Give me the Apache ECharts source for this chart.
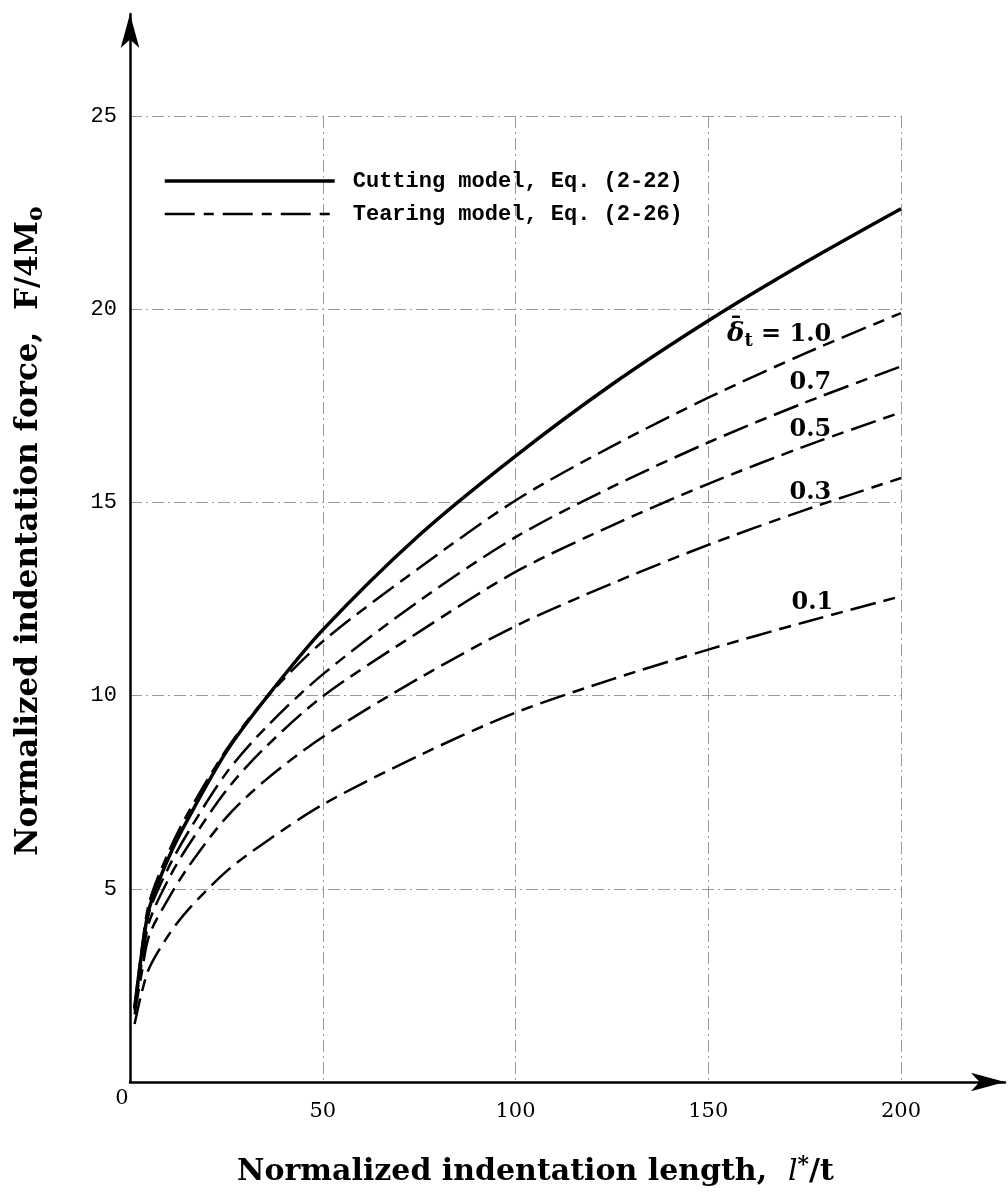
<!DOCTYPE html>
<html>
<head>
<meta charset="utf-8">
<script src="https://cdn.jsdelivr.net/npm/echarts@6/dist/echarts.min.js"></script>
<style>
  html, body { margin: 0; padding: 0; background: #fff; }
  #chart { width: 1008px; height: 1192px; }
</style>
</head>
<body>
<div id="chart"></div>
<script>
// indentation length l*/t, shared by every curve
const lengths = [1.2, 3, 5, 10, 15, 25, 35, 50, 75, 100, 125, 150, 175, 200];

// cutting model, Eq. (2-22)
const cutting = [1.9, 3.3, 4.5, 5.8, 6.8, 8.55, 9.9, 11.7, 14.15, 16.2, 18.05, 19.7, 21.2, 22.6];

// tearing model, Eq. (2-26), one curve per delta_t
const tear10 = [1.95, 3.4, 4.65, 5.95, 6.95, 8.6, 9.9, 11.4, 13.3, 15.05, 16.45, 17.71, 18.85, 19.9];
const tear07 = [1.9, 3.2, 4.4, 5.55, 6.45, 8.0, 9.15, 10.55, 12.45, 14.1, 15.4, 16.55, 17.58, 18.52];
const tear05 = [1.85, 3.05, 4.15, 5.25, 6.1, 7.55, 8.65, 9.98, 11.65, 13.2, 14.4, 15.48, 16.45, 17.33];
const tear03 = [1.75, 2.8, 3.8, 4.75, 5.55, 6.85, 7.8, 8.93, 10.45, 11.8, 12.9, 13.9, 14.8, 15.63];
const tear01 = [1.5, 2.3, 2.95, 3.8, 4.45, 5.45, 6.2, 7.18, 8.45, 9.56, 10.42, 11.19, 11.9, 12.57];

const deltas = ['1.0', '0.7', '0.5', '0.3', '0.1'];
const tearing = [tear10, tear07, tear05, tear03, tear01];
// where each delta label sits, in data units
const labelAt = [[168.4, 19.4], [176.5, 18.1], [176.5, 16.88], [176.5, 15.25], [177, 12.4]];

const cutName = 'Cutting model, Eq. (2-22)';
const tearName = 'Tearing model, Eq. (2-26)';

const toPairs = ys => lengths.map((x, i) => [x, ys[i]]);

const myChart = echarts.init(document.getElementById('chart'), null, { renderer: 'canvas' });

const gridLine = { show: true, lineStyle: { color: '#9a9a9a', width: 1, type: [12, 4, 2, 4] } };
const arrowAxisLine = {
  show: true,
  symbol: ['none', 'arrow'],
  symbolSize: [14, 34],
  lineStyle: { color: '#000', width: 2.5 }
};

const series = [{
  name: cutName,
  type: 'line',
  xAxisIndex: 0,
  yAxisIndex: 0,
  smooth: 0.3,
  showSymbol: false,
  symbol: 'none',
  itemStyle: { color: '#000' },
  lineStyle: { color: '#000', width: 3.5 },
  data: toPairs(cutting)
}];

tearing.forEach((ys, i) => {
  series.push({
    name: tearName,
    type: 'line',
    xAxisIndex: 0,
    yAxisIndex: 0,
    smooth: 0.3,
    showSymbol: false,
    symbol: 'none',
    itemStyle: { color: '#000' },
    lineStyle: { color: '#000', width: 2.5, type: [26, 8, 12, 8] },
    data: toPairs(ys),
    markPoint: {
      symbol: 'circle',
      symbolSize: 0,
      silent: true,
      label: {
        show: true,
        position: 'inside',
        color: '#000',
        fontFamily: 'DejaVu Serif',
        fontWeight: 'bold',
        fontSize: 24,
        formatter: i === 0 ? '{bar|\u2013}\n{d|\u03B4}{t|t}{n| = ' + deltas[i] + '}' : deltas[i],
        rich: {
          bar: { align: 'left', fontFamily: 'DejaVu Serif', fontWeight: 'bold', fontSize: 20, lineHeight: 4, color: '#000', padding: [0, 0, 0, 4] },
          d: { fontFamily: 'DejaVu Serif', fontStyle: 'italic', fontWeight: 'bold', fontSize: 26, color: '#000' },
          t: { fontFamily: 'DejaVu Serif', fontWeight: 'bold', fontSize: 18, color: '#000', padding: [14, 0, 0, 0] },
          n: { fontFamily: 'DejaVu Serif', fontWeight: 'bold', fontSize: 24, color: '#000' }
        }
      },
      data: [{ coord: labelAt[i] }]
    }
  });
});

const option = {
  backgroundColor: '#fff',
  animation: false,
  legend: {
    orient: 'vertical',
    left: 163,
    top: 170,
    padding: 0,
    itemWidth: 170,
    itemHeight: 14,
    itemGap: 11,
    itemStyle: { opacity: 0 },
    data: [
      { name: cutName, lineStyle: { width: 3.5 } },
      { name: tearName, lineStyle: { width: 2.5, type: [30, 9, 10, 9] } }
    ],
    textStyle: {
      fontFamily: 'Liberation Mono',
      fontWeight: 'bold',
      fontSize: 22,
      color: '#000',
      padding: [0, 0, 0, 13]
    }
  },
  grid: [
    { left: 130, right: 107, top: 116, bottom: 110 },
    { left: 130, right: 3, top: 14, bottom: 110 }
  ],
  xAxis: [{
    gridIndex: 0,
    type: 'value',
    min: 0,
    max: 200,
    interval: 50,
    axisLine: { show: false },
    axisTick: { show: false },
    splitLine: gridLine,
    axisLabel: {
      margin: 6,
      color: '#000',
      formatter: v => (v === 0 ? '{z|0}' : '{n|' + v + '}'),
      rich: {
        z: { fontFamily: 'DejaVu Serif', fontSize: 21, color: '#000', padding: [0, 16, 0, 0] },
        n: { fontFamily: 'DejaVu Serif', fontSize: 21, color: '#000', padding: [13, 0, 0, 0] }
      }
    },
    name: '{a|Normalized indentation length,  }{i|l}{s|*}{a|/t}',
    nameLocation: 'middle',
    nameGap: 72,
    nameTextStyle: {
      rich: {
        a: { fontFamily: 'DejaVu Serif', fontWeight: 'bold', fontSize: 30, color: '#000' },
        i: { fontFamily: 'DejaVu Serif', fontStyle: 'italic', fontSize: 30, color: '#000' },
        s: { fontFamily: 'DejaVu Serif', fontWeight: 'bold', fontSize: 22, color: '#000', padding: [0, 0, 14, 0] }
      },
      padding: [0, 0, 0, 40]
    }
  }, {
    gridIndex: 1,
    type: 'value',
    min: 0,
    max: 1,
    axisLine: arrowAxisLine,
    axisTick: { show: false },
    axisLabel: { show: false },
    splitLine: { show: false }
  }],
  yAxis: [{
    gridIndex: 0,
    type: 'value',
    min: 0,
    max: 25,
    interval: 5,
    axisLine: { show: false },
    axisTick: { show: false },
    splitLine: gridLine,
    axisLabel: {
      margin: 13,
      color: '#000',
      fontFamily: 'Liberation Mono',
      fontSize: 22,
      formatter: v => (v === 0 ? '' : String(v))
    }
  }, {
    gridIndex: 1,
    type: 'value',
    min: 0,
    max: 1,
    axisLine: arrowAxisLine,
    axisTick: { show: false },
    axisLabel: { show: false },
    splitLine: { show: false },
    name: '{a|Normalized indentation force,  F/4M}{o|o}',
    nameLocation: 'middle',
    nameGap: 83,
    nameTextStyle: {
      rich: {
        a: { fontFamily: 'DejaVu Serif', fontWeight: 'bold', fontSize: 31, color: '#000' },
        o: { fontFamily: 'DejaVu Serif', fontWeight: 'bold', fontSize: 22, color: '#000', padding: [14, 0, 0, 0] }
      },
      padding: [0, 0, 0, 34]
    }
  }],
  series
};

myChart.setOption(option);
</script>
</body>
</html>
